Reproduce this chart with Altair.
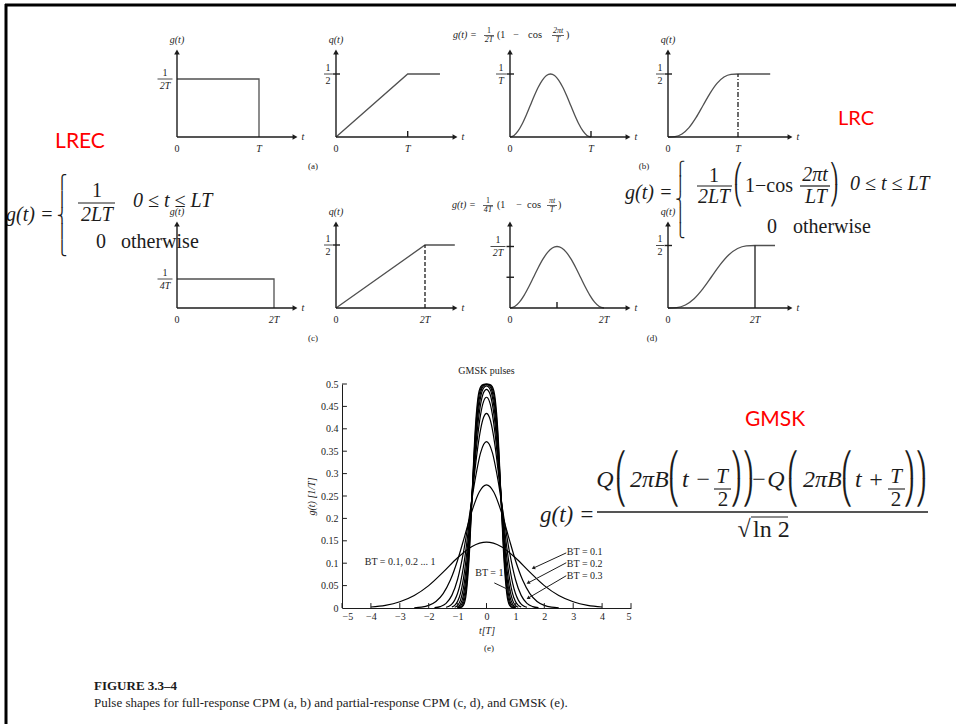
import math
import altair as alt
import pandas as pd

SERIF = "Liberation Serif"
PIECE_FONT = "DejaVu Sans"
INK = "#1c1c1c"
CURVE = "#505050"
RED = "#ff0000"

# ---------------- pulse shapes (t in units of T) ----------------
# (a) full-response rectangular, L = 1
a_g_t = [0, 1, 1]
a_g_v = [0.5, 0.5, 0]
a_q_t = [0, 1, 1.45]
a_q_v = [0, 0.5, 0.5]
# (b) full-response raised cosine, L = 1
b_g_t = [0, 0.05, 0.1, 0.15, 0.2, 0.25, 0.3, 0.35, 0.4, 0.45, 0.5,
         0.55, 0.6, 0.65, 0.7, 0.75, 0.8, 0.85, 0.9, 0.95, 1]
b_g_v = [0, 0.0245, 0.0955, 0.2061, 0.3455, 0.5, 0.6545, 0.7939, 0.9045, 0.9755, 1,
         0.9755, 0.9045, 0.7939, 0.6545, 0.5, 0.3455, 0.2061, 0.0955, 0.0245, 0]
b_q_t = [0, 0.1, 0.2, 0.3, 0.4, 0.5, 0.6, 0.7, 0.8, 0.9, 1, 1.46]
b_q_v = [0, 0.0032, 0.0243, 0.0743, 0.1532, 0.25, 0.3468, 0.4257, 0.4757, 0.4968, 0.5, 0.5]
# (c) partial-response rectangular, L = 2
c_g_t = [0, 2, 2]
c_g_v = [0.25, 0.25, 0]
c_q_t = [0, 2, 2.67]
c_q_v = [0, 0.5, 0.5]
# (d) partial-response raised cosine, L = 2
d_g_t = [0, 0.1, 0.2, 0.3, 0.4, 0.5, 0.6, 0.7, 0.8, 0.9, 1,
         1.1, 1.2, 1.3, 1.4, 1.5, 1.6, 1.7, 1.8, 1.9, 2]
d_g_v = [0, 0.0122, 0.0477, 0.1031, 0.1727, 0.25, 0.3273, 0.3969, 0.4523, 0.4878, 0.5,
         0.4878, 0.4523, 0.3969, 0.3273, 0.25, 0.1727, 0.1031, 0.0477, 0.0122, 0]
d_q_t = [0, 0.2, 0.4, 0.6, 0.8, 1, 1.2, 1.4, 1.6, 1.8, 2, 2.46]
d_q_v = [0, 0.0032, 0.0243, 0.0743, 0.1532, 0.25, 0.3468, 0.4257, 0.4757, 0.4968, 0.5, 0.5]

# ---------------- GMSK pulses, BT = 0.1 ... 1 ----------------
gm_bt = [0.1, 0.2, 0.3, 0.4, 0.5, 0.6, 0.7, 0.8, 0.9, 1.0]
gm_t_01 = [-4, -3.5, -3, -2.5, -2, -1.5, -1, -0.5, 0, 0.5, 1, 1.5, 2, 2.5, 3, 3.5, 4]
gm_g_01 = [0.0022, 0.0060, 0.0140, 0.0280, 0.0500, 0.0800, 0.1121, 0.1374, 0.1469,
           0.1374, 0.1121, 0.0800, 0.0500, 0.0280, 0.0140, 0.0060, 0.0022]
gm_t_02 = [-2.5, -2.25, -2, -1.75, -1.5, -1.25, -1, -0.75, -0.5, -0.25, 0,
           0.25, 0.5, 0.75, 1, 1.25, 1.5, 1.75, 2, 2.25, 2.5]
gm_g_02 = [0.0006, 0.0020, 0.0059, 0.0146, 0.0322, 0.0624, 0.1067, 0.1617, 0.2172, 0.2590, 0.2748,
           0.2590, 0.2172, 0.1617, 0.1067, 0.0624, 0.0322, 0.0146, 0.0059, 0.0020, 0.0006]
gm_t_03 = [-1.8, -1.6, -1.4, -1.2, -1, -0.8, -0.6, -0.4, -0.2, 0,
           0.2, 0.4, 0.6, 0.8, 1, 1.2, 1.4, 1.6, 1.8]
gm_g_03 = [0.0008, 0.0032, 0.0104, 0.0282, 0.0642, 0.1235, 0.2020, 0.2844, 0.3475, 0.3712,
           0.3475, 0.2844, 0.2020, 0.1235, 0.0642, 0.0282, 0.0104, 0.0032, 0.0008]
gm_t_04 = [-1.4, -1.3, -1.2, -1.1, -1.0, -0.9, -0.8, -0.7, -0.6, -0.5, -0.4, -0.3, -0.2, -0.1, 0,
           0.1, 0.2, 0.3, 0.4, 0.5, 0.6, 0.7, 0.8, 0.9, 1.0, 1.1, 1.2, 1.3, 1.4]
gm_g_04 = [0.0017, 0.0040, 0.0087, 0.0176, 0.0328, 0.0569, 0.0913, 0.1364, 0.1905, 0.2494,
           0.3077, 0.3596, 0.4000, 0.4256, 0.4344, 0.4256, 0.4000, 0.3596, 0.3077, 0.2494,
           0.1905, 0.1364, 0.0913, 0.0569, 0.0328, 0.0176, 0.0087, 0.0040, 0.0017]
gm_t_05 = [-1.2, -1.1, -1.0, -0.9, -0.8, -0.7, -0.6, -0.5, -0.4, -0.3, -0.2, -0.1, 0,
           0.1, 0.2, 0.3, 0.4, 0.5, 0.6, 0.7, 0.8, 0.9, 1.0, 1.1, 1.2]
gm_g_05 = [0.0021, 0.0059, 0.0148, 0.0328, 0.0644, 0.1126, 0.1766, 0.2500, 0.3233, 0.3868,
           0.4335, 0.4613, 0.4704, 0.4613, 0.4335, 0.3868, 0.3233, 0.2500, 0.1766, 0.1126,
           0.0644, 0.0328, 0.0148, 0.0059, 0.0021]
gm_t_06 = [-1.1, -1.0, -0.9, -0.8, -0.7, -0.6, -0.5, -0.4, -0.3, -0.2, -0.1, 0,
           0.1, 0.2, 0.3, 0.4, 0.5, 0.6, 0.7, 0.8, 0.9, 1.0, 1.1]
gm_g_06 = [0.0017, 0.0059, 0.0176, 0.0436, 0.0913, 0.1627, 0.2500, 0.3373, 0.4086, 0.4560,
           0.4808, 0.4882, 0.4808, 0.4560, 0.4086, 0.3373, 0.2500, 0.1627, 0.0913, 0.0436,
           0.0176, 0.0059, 0.0017]
gm_t_hi = [-1.0, -0.9, -0.8, -0.7, -0.6, -0.5, -0.4, -0.3, -0.2, -0.1, 0,
           0.1, 0.2, 0.3, 0.4, 0.5, 0.6, 0.7, 0.8, 0.9, 1.0]
gm_g_07 = [0.0021, 0.0087, 0.0283, 0.0727, 0.1493, 0.2500, 0.3507, 0.4273, 0.4717, 0.4910, 0.4959,
           0.4910, 0.4717, 0.4273, 0.3507, 0.2500, 0.1493, 0.0727, 0.0283, 0.0087, 0.0021]
gm_g_08 = [0.0006, 0.0040, 0.0176, 0.0568, 0.1365, 0.2500, 0.3635, 0.4432, 0.4825, 0.4960, 0.4987,
           0.4960, 0.4825, 0.4432, 0.3635, 0.2500, 0.1365, 0.0568, 0.0176, 0.0040, 0.0006]
gm_g_09 = [0.0002, 0.0017, 0.0104, 0.0436, 0.1243, 0.2500, 0.3757, 0.4564, 0.4896, 0.4983, 0.4997,
           0.4983, 0.4896, 0.4564, 0.3757, 0.2500, 0.1243, 0.0436, 0.0104, 0.0017, 0.0002]
gm_g_10 = [0.0000, 0.0006, 0.0059, 0.0328, 0.1126, 0.2500, 0.3874, 0.4672, 0.4941, 0.4993, 0.4999,
           0.4993, 0.4941, 0.4672, 0.3874, 0.2500, 0.1126, 0.0328, 0.0059, 0.0006, 0.0000]
gm_x_ticks = [-5, -4, -3, -2, -1, 0, 1, 2, 3, 4, 5]
gm_y_ticks = [0, 0.05, 0.1, 0.15, 0.2, 0.25, 0.3, 0.35, 0.4, 0.45, 0.5]

gm_series = [
    (gm_bt[0], gm_t_01, gm_g_01), (gm_bt[1], gm_t_02, gm_g_02), (gm_bt[2], gm_t_03, gm_g_03),
    (gm_bt[3], gm_t_04, gm_g_04), (gm_bt[4], gm_t_05, gm_g_05), (gm_bt[5], gm_t_06, gm_g_06),
    (gm_bt[6], gm_t_hi, gm_g_07), (gm_bt[7], gm_t_hi, gm_g_08), (gm_bt[8], gm_t_hi, gm_g_09),
    (gm_bt[9], gm_t_hi, gm_g_10),
]

W, H = 956, 724


def panel(ct, cv, x0, y0, ppt, ppu, tip_x, tip_y, xlabels, top=None, frac=None,
          xticks=(), yticks=(), vline=None, vdash=None, smooth=False):
    """One small sketch; its origin (t=0, value=0) sits at page pixel (x0, y0)."""
    xs = alt.Scale(domain=[0, 1], range=[x0, x0 + ppt], nice=False, zero=False)
    ys = alt.Scale(domain=[0, 1], range=[y0, y0 - ppu], nice=False, zero=False)

    def X(f):
        return alt.X(f, type="quantitative", scale=xs, axis=None)

    def Y(f):
        return alt.Y(f, type="quantitative", scale=ys, axis=None)

    xt, yt = tip_x / ppt, tip_y / ppu
    layers = []
    cdf = pd.DataFrame({"x": ct, "y": cv, "i": list(range(len(ct)))})
    layers.append(alt.Chart(cdf).mark_line(
        color=CURVE, strokeWidth=1.3, interpolate="monotone" if smooth else "linear"
    ).encode(x=X("x"), y=Y("y"), order="i:Q"))

    segs = [(0, 0, xt, 0), (0, 0, 0, yt)]
    for a in xticks:
        segs.append((a, 0, a, 6 / ppu))
    for b in yticks:
        segs.append((-3.5 / ppt, b, 4 / ppt, b))
    sdf = pd.DataFrame(segs, columns=["x", "y", "x2", "y2"])
    layers.append(alt.Chart(sdf).mark_rule(color=INK, strokeWidth=1.4).encode(
        x=X("x"), y=Y("y"), x2="x2:Q", y2="y2:Q"))

    if vline is not None:
        vdf = pd.DataFrame({"x": [vline[0]], "y": [0], "y2": [vline[1]]})
        mk = dict(color=INK, strokeWidth=1.3)
        if vdash:
            mk["strokeDash"] = vdash
        layers.append(alt.Chart(vdf).mark_rule(**mk).encode(x=X("x"), y=Y("y"), y2="y2:Q"))

    hdf = pd.DataFrame({"x": [xt, 0], "y": [0, yt], "s": ["triangle-right", "triangle-up"]})
    layers.append(alt.Chart(hdf).mark_point(filled=True, size=32, color=INK, opacity=1,
                                            strokeWidth=0).encode(
        x=X("x"), y=Y("y"), shape=alt.Shape("s:N", scale=None)))

    labels = []
    for xv, txt in xlabels:
        labels.append((xv, -11.5 / ppu, txt))
    labels.append((xt + 8 / ppt, 0, "t"))
    if top:
        labels.append((0, yt + 12 / ppu, top))
    if frac:
        level, num, den, cx, half = frac
        labels.append((cx / ppt, level + 6.5 / ppu, num))
        labels.append((cx / ppt, level - 6.5 / ppu, den))
        bdf = pd.DataFrame({"x": [(cx - half) / ppt], "y": [level], "x2": [(cx + half) / ppt]})
        layers.append(alt.Chart(bdf).mark_rule(color=INK, strokeWidth=0.8).encode(
            x=X("x"), y=Y("y"), x2="x2:Q"))
    ldf = pd.DataFrame(labels, columns=["x", "y", "text"])
    ldf["it"] = ldf["text"].apply(lambda s: any(c.isalpha() for c in s))
    for it in (True, False):
        sub = ldf[ldf["it"] == it]
        if len(sub):
            layers.append(alt.Chart(sub).mark_text(
                font=SERIF, fontSize=10, color=INK, baseline="middle", align="center",
                fontStyle="italic" if it else "normal").encode(
                x=X("x"), y=Y("y"), text="text:N"))
    return alt.layer(*layers)


# ---------------- panels (a), (b) ----------------
p1 = panel(a_g_t, a_g_v, 177, 137, 82, 116, 118, 85, [(0, "0"), (1, "T")], top="g(t)",
           frac=(0.5, "1", "2T", -12, 7.5))
p2 = panel(a_q_t, a_q_v, 336, 137, 71.7, 126, 119, 85, [(0, "0"), (1, "T")], top="q(t)",
           frac=(0.5, "1", "2", -8, 4), xticks=[1], yticks=[0.5])
p3 = panel(b_g_t, b_g_v, 510, 137, 81, 63, 118, 85, [(0, "0"), (1, "T")],
           frac=(1, "1", "T", -9, 5), xticks=[1], yticks=[1], smooth=True)
p4 = panel(b_q_t, b_q_v, 668, 137, 70, 126, 122, 85, [(0, "0"), (1, "T")], top="q(t)",
           frac=(0.5, "1", "2", -8, 4), yticks=[0.5], vline=(1, 0.5), vdash=[5, 2, 1, 2],
           smooth=True)

# ---------------- panels (c), (d) ----------------
c1 = panel(c_g_t, c_g_v, 177, 308, 48.5, 116, 118, 84, [(0, "0"), (2, "2T")], top="g(t)",
           frac=(0.25, "1", "4T", -12, 7.5))
c2 = panel(c_q_t, c_q_v, 336, 308, 44.5, 126, 119, 84, [(0, "0"), (2, "2T")], top="q(t)",
           frac=(0.5, "1", "2", -8, 4), yticks=[0.5], vline=(2, 0.5), vdash=[4, 2])
d1 = panel(d_g_t, d_g_v, 510, 308, 47, 123, 118, 84, [(0, "0"), (2, "2T")],
           frac=(0.5, "1", "2T", -12, 7.5), xticks=[1], yticks=[0.25, 0.5], smooth=True)
d2 = panel(d_q_t, d_q_v, 668, 308, 43.5, 125, 122, 84, [(0, "0"), (2, "2T")], top="q(t)",
           frac=(0.5, "1", "2", -8, 4), yticks=[0.5], vline=(2, 0.5), smooth=True)

# ---------------- GMSK panel (e) ----------------
GX0, GX1, GY0, GY1 = 342, 631, 608, 384
gx = alt.Scale(domain=[-5, 5], range=[GX0, GX1], nice=False, zero=False)
gy = alt.Scale(domain=[0, 0.5], range=[GY0, GY1], nice=False, zero=False)
gx_axis = alt.Axis(values=gm_x_ticks, title="t[T]", orient="bottom", offset=GY0 - H,
                   ticks=False, grid=False, domainColor=INK,
                   labelFont=SERIF, labelFontSize=10, labelColor=INK, labelPadding=3,
                   titleFont=SERIF, titleFontSize=10, titleFontWeight="normal",
                   titleFontStyle="italic", titleColor=INK, titlePadding=4)
gy_axis = alt.Axis(values=gm_y_ticks, format=".2~f", title="g(t) [1/T]", orient="left",
                   offset=-GX0, ticks=False, grid=False, domainColor=INK, labelFont=SERIF,
                   labelFontSize=10, labelColor=INK, labelPadding=4, titleFont=SERIF,
                   titleFontSize=10, titleFontWeight="normal", titleFontStyle="italic",
                   titleColor=INK, titlePadding=4)


def GX(f):
    return alt.X(f, type="quantitative", scale=gx, axis=gx_axis)


def GY(f):
    return alt.Y(f, type="quantitative", scale=gy, axis=gy_axis)


grows = []
for bt, ts, gs in gm_series:
    for t, g in zip(ts, gs):
        grows.append({"t": t, "g": g, "bt": bt})
gdf = pd.DataFrame(grows)
g_curves = alt.Chart(gdf).mark_line(color="black", strokeWidth=1.2, interpolate="monotone").encode(
    x=GX("t"), y=GY("g"), detail="bt:N")

tk = [(v, 0, v, 0.011) for v in gm_x_ticks] + [(-5, v, -4.83, v) for v in gm_y_ticks[1:]]
g_ticks = alt.Chart(pd.DataFrame(tk, columns=["t", "g", "t2", "g2"])).mark_rule(
    color=INK, strokeWidth=1).encode(x=GX("t"), y=GY("g"), x2="t2:Q", y2="g2:Q")

gm_notes = [("GMSK pulses", 0, 0.528, "center"),
            ("BT = 0.1, 0.2 ... 1", -2.99, 0.103, "center"),
            ("BT = 1", 0.1, 0.078, "center"),
            ("BT = 0.1", 2.78, 0.124, "left"),
            ("BT = 0.2", 2.78, 0.098, "left"),
            ("BT = 0.3", 2.78, 0.072, "left")]
note_layers = []
for al in ("center", "left"):
    sub = pd.DataFrame([(a, b, c) for a, b, c, d in gm_notes if d == al], columns=["text", "t", "g"])
    note_layers.append(alt.Chart(sub).mark_text(font=SERIF, fontSize=10, color=INK, align=al,
                                                baseline="middle").encode(
        x=GX("t"), y=GY("g"), text="text:N"))

gm_arrows = [(2.76, 0.123, 1.62, 0.089), (2.76, 0.101, 1.44, 0.056),
             (2.76, 0.072, 1.44, 0.022), (0.27, 0.056, 0.79, 0.040)]
adf = pd.DataFrame(gm_arrows, columns=["t", "g", "t2", "g2"])
adf["ang"] = [
    (math.degrees(math.atan2((b2 - b1) * (GX1 - GX0) / 10, (g2 - g1) * (GY0 - GY1) / 0.5)) + 360) % 360
    for b1, g1, b2, g2 in gm_arrows]
g_arrow_lines = alt.Chart(adf).mark_rule(color=INK, strokeWidth=1).encode(
    x=GX("t"), y=GY("g"), x2="t2:Q", y2="g2:Q")
g_arrow_heads = alt.Chart(adf).mark_point(shape="triangle-up", filled=True, size=16, color=INK,
                                          opacity=1, strokeWidth=0).encode(
    x=GX("t2"), y=GY("g2"), angle=alt.Angle("ang:Q", scale=None))

gmsk = alt.layer(g_curves, g_ticks, *note_layers, g_arrow_lines, g_arrow_heads)

# ---------------- text annotations (page pixels) ----------------
notes = [
    ("LREC", 80, 142, 21, "red"), ("LRC", 856, 119, 20, "red"), ("GMSK", 775, 420, 21, "red"),
    # LREC formula
    ("g(t) =", 6, 215, 20, "ital"), ("1", 97, 191, 20, "ser_c"), ("2LT", 97, 215, 20, "ital_c"),
    ("0 ≤ t ≤ LT", 133, 201, 20, "ital"), ("0", 101, 242, 20, "ser_c"),
    ("otherwise", 121, 242, 20, "ser"),
    # LRC formula
    ("g(t) =", 625, 193, 20, "ital"), ("1", 714, 176, 20, "ser_c"), ("2LT", 714, 197, 20, "ital_c"),
    ("1−cos", 745, 186, 20, "ser"), ("2πt", 815, 175, 20, "ital_c"), ("LT", 816, 197, 20, "ital_c"),
    ("0 ≤ t ≤ LT", 850, 184, 20, "ital"), ("0", 772, 227, 20, "ser_c"),
    ("otherwise", 793, 227, 20, "ser"),
    # GMSK formula
    ("g(t) =", 540, 515, 23, "ital"),
    ("Q", 605, 480, 24, "ital_c"), ("2πB", 630, 480, 24, "ital"), ("t −", 682, 480, 24, "ital"),
    ("T", 722, 477, 21, "ital_c"), ("2", 723, 500, 21, "ser_c"),
    ("−", 759, 480, 24, "ser_c"), ("Q", 776, 480, 24, "ital_c"), ("2πB", 803, 480, 24, "ital"),
    ("t +", 855, 480, 24, "ital"), ("T", 896, 477, 21, "ital_c"), ("2", 896, 500, 21, "ser_c"),
    ("√", 744, 530, 24, "ser_c"), ("ln 2", 753, 530, 24, "ser"),
    # small title of (b)
    ("g(t) =", 453, 35, 10, "ital"), ("1", 489, 31, 8, "ser_c"), ("2T", 489, 40, 8, "ital_c"),
    ("(1", 497, 35, 10, "ser"), ("−", 516, 35, 10, "ser_c"), ("cos", 528, 35, 10.5, "ser"),
    ("2πt", 558, 31, 8, "ital_c"), ("T", 558, 40, 8, "ital_c"), (")", 566, 35, 10, "ser"),
    # small title of (d)
    ("g(t) =", 452, 205, 10, "ital"), ("1", 488, 201, 8, "ser_c"), ("4T", 488, 210, 8, "ital_c"),
    ("(1", 497, 205, 10, "ser"), ("−", 519, 205, 10, "ser_c"), ("cos", 527, 205, 10.5, "ser"),
    ("πt", 552, 201, 8, "ital_c"), ("T", 552, 210, 8, "ital_c"), (")", 558, 205, 10, "ser"),
    # panel tags
    ("(a)", 313, 166, 9, "ser_c"), ("(b)", 644, 166, 9, "ser_c"), ("(c)", 313, 338, 9, "ser_c"),
    ("(d)", 652, 338, 9, "ser_c"), ("(e)", 489, 648, 9, "ser_c"),
    # caption
    ("FIGURE 3.3–4", 94, 686, 13, "bold"),
    ("Pulse shapes for full-response CPM (a, b) and partial-response CPM (c, d), and GMSK (e).",
     94, 703, 13, "ser"),
]
styles = {
    "ser": dict(font=SERIF, align="left"),
    "ser_c": dict(font=SERIF, align="center"),
    "ital": dict(font=SERIF, fontStyle="italic", align="left"),
    "ital_c": dict(font=SERIF, fontStyle="italic", align="center"),
    "bold": dict(font=SERIF, fontWeight="bold", align="left"),
    "red": dict(font="Lato", align="center", color=RED),
}
bars = [(78, 115, 203, 1.2), (697, 732, 186, 1.2), (800, 830, 186, 1.2), (597, 928, 512, 1.4),
        (714, 731, 489, 1.1), (888, 905, 489, 1.1), (751, 788, 517, 1.1),
        (484, 494, 35.5, 0.7), (552, 564, 35.5, 0.7), (483, 493, 205.5, 0.7),
        (547, 557, 205.5, 0.7)]
pieces = [  # tall braces and parentheses: (glyph stack, x, y-centre, font size)
    (["⎧", "⎪", "⎨", "⎪", "⎩"], 62, 216, 14),
    (["⎧", "⎪", "⎨", "⎪", "⎩"], 680, 200, 13.5),
    (["⎛", "⎝"], 738, 185, 19), (["⎞", "⎠"], 834, 185, 19),
    (["⎛", "⎝"], 621, 480, 24), (["⎛", "⎝"], 674, 480, 24),
    (["⎞", "⎠"], 736, 480, 24), (["⎞", "⎠"], 748, 480, 24),
    (["⎛", "⎝"], 793, 480, 24), (["⎛", "⎝"], 847, 480, 24),
    (["⎞", "⎠"], 909, 480, 24), (["⎞", "⎠"], 921, 480, 24),
]

PX = dict(scale=None, axis=None)
ndf = pd.DataFrame(notes, columns=["text", "x", "y", "size", "style"])
ann_layers = []
for key, st in styles.items():
    sub = ndf[ndf["style"] == key]
    if not len(sub):
        continue
    mk = dict(color=INK, baseline="middle")
    mk.update(st)
    ann_layers.append(alt.Chart(sub).mark_text(**mk).encode(
        x=alt.X("x:Q", **PX), y=alt.Y("y:Q", **PX), text="text:N",
        size=alt.Size("size:Q", scale=None)))
bdf = pd.DataFrame(bars, columns=["x", "x2", "y", "w"])
ann_layers.append(alt.Chart(bdf).mark_rule(color=INK).encode(
    x=alt.X("x:Q", **PX), x2="x2:Q", y=alt.Y("y:Q", **PX), size=alt.Size("w:Q", scale=None)))
one = pd.DataFrame({"a": [0]})
for glyphs, px, py, fs in pieces:
    lh = fs * 1.164
    ann_layers.append(alt.Chart(one).mark_text(
        text=glyphs, font=PIECE_FONT, fontSize=fs, lineHeight=lh, color=INK,
        baseline="middle", align="center").encode(
        x=alt.value(px), y=alt.value(py - (len(glyphs) - 1) * lh / 2)))
# frame lines
ann_layers.append(alt.Chart(one).mark_rule(color="black", strokeWidth=3).encode(
    x=alt.value(5), x2=alt.value(W), y=alt.value(5)))
ann_layers.append(alt.Chart(one).mark_rule(color="black", strokeWidth=3).encode(
    x=alt.value(6), y=alt.value(4), y2=alt.value(H)))
ann = alt.layer(*ann_layers)

chart = alt.layer(ann, p1, p2, p3, p4, c1, c2, d1, d2, gmsk).resolve_scale(
    x="independent", y="independent").properties(
    width=W, height=H, padding=0, background="white",
    autosize=alt.AutoSizeParams(type="none")).configure_view(strokeWidth=0)

chart.save("out.html", embed_options={"renderer": "svg", "actions": False})
